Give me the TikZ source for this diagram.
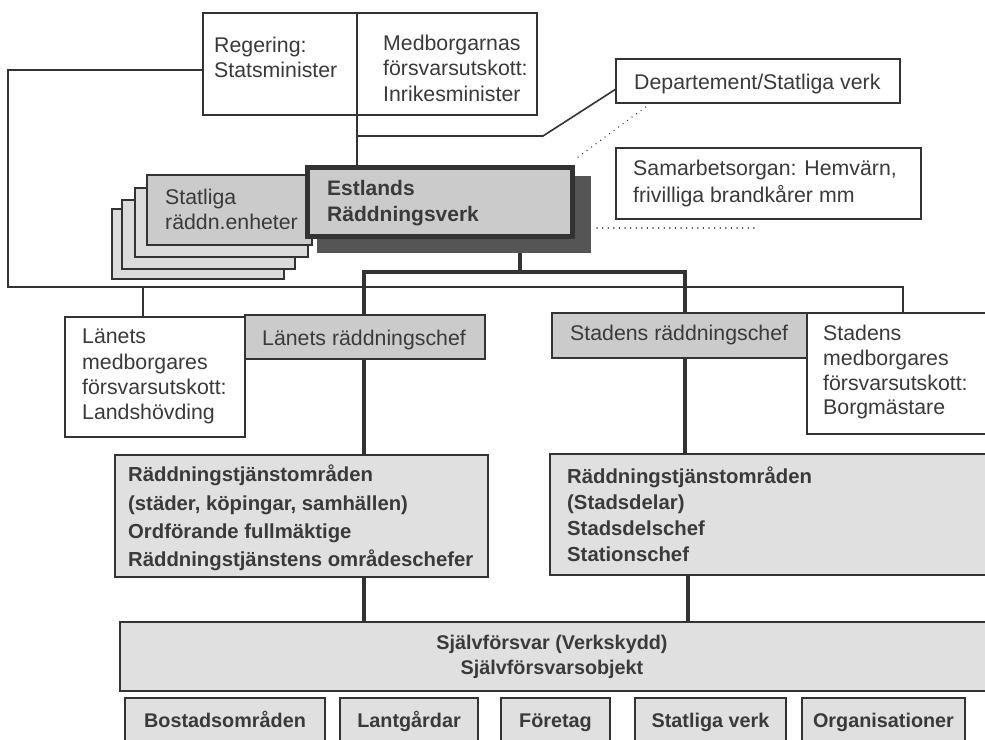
\documentclass[tikz,border=0pt]{standalone}
\usepackage{fontspec}
\setmainfont{Liberation Sans}
\usetikzlibrary{calc,fit}
\definecolor{ln}{HTML}{333333}
\definecolor{txtc}{HTML}{3A3A3A}
\definecolor{hatchc}{HTML}{CBCBCB}
\definecolor{stipc}{HTML}{DCDCDC}
\definecolor{lightc}{HTML}{E0E0E0}
\definecolor{shadc}{HTML}{555555}
\begin{document}
\begin{tikzpicture}[x=1pt,y=-1pt,
  box/.style={draw=ln, line width=1.6pt, fill=white, inner sep=0pt, outer sep=0pt},
  hatchbox/.style={box, fill=hatchc},
  stipbox/.style={box, fill=stipc},
  lightbox/.style={box, fill=lightc, line width=1.8pt},
  estbox/.style={box, fill=hatchc, line width=5pt},
  shadbox/.style={fill=shadc, draw=none, inner sep=0pt, outer sep=0pt},
  conn/.style={draw=ln, line width=1.6pt},
  thk/.style={draw=ln, line width=4.5pt},
  dotl/.style={draw=ln, line width=1.4pt, dash pattern=on 0.1pt off 5.5pt, line cap=round},
  rtxt/.style={text=txtc, inner sep=0pt, align=left, font={\fontsize{21.3}{#1}\selectfont}},
  btxt/.style={text=txtc, inner sep=0pt, align=left, font={\fontsize{20.3}{#1}\selectfont\bfseries}},
  ctxt/.style={text=txtc, inner sep=0pt, align=center, font={\fontsize{19.8}{#1}\selectfont\bfseries}}
]
\useasboundingbox (0,0) rectangle (985,739);

% ---------- top boxes
\node[box, fit={(203,13) (357,115)}] (reg) {};
\node[box, fit={(357,13) (537,115)}] (med) {};
\node[box, fit={(616,59) (900,103)}] (dep) {};
\node[box, fit={(616,148) (921,219)}] (sam) {};

% ---------- Statliga stack
\node[stipbox, fit={(112,209) (284,279)}] (st4) {};
\node[stipbox, fit={(122,200) (295,269)}] (st3) {};
\node[stipbox, fit={(135,188) (308,257)}] (st2) {};
\node[hatchbox, fit={(147,175) (312,245)}] (st1) {};

% ---------- Estlands
\node[shadbox, fit={(317,176) (591,253)}] (shd) {};
\node[estbox, fit={(307.5,167.5) (572.5,236.5)}] (est) {};

% ---------- middle row
\node[box, fit={(65,317) (245,437)}] (lmed) {};
\node[hatchbox, fit={(245,315) (485,359)}] (lrc) {};
\node[hatchbox, fit={(552,313) (807,358)}] (src) {};
\node[box, fit={(807,313) (995,434)}] (smed) {};

% ---------- lower boxes
\node[lightbox, fit={(115,455) (488,577)}] (lrt) {};
\node[lightbox, fit={(550,454) (995,575)}] (rrt) {};
\node[lightbox, fit={(120,622) (995,691)}] (self) {};
\node[lightbox, fit={(125,698) (325,750)}] (b1) {};
\node[lightbox, fit={(340,698) (478,750)}] (b2) {};
\node[lightbox, fit={(501,698) (610,750)}] (b3) {};
\node[lightbox, fit={(635,698) (786,750)}] (b4) {};
\node[lightbox, fit={(802,698) (965,750)}] (b5) {};

% ---------- connector coordinates
\coordinate (rw) at ($(reg.west)+(0,6)$);
\coordinate (L1) at (8,70);
\coordinate (L2) at (8,287);
\coordinate (L3) at (903,287);
\coordinate (lb) at (143,287);
\coordinate (j1) at (357,136);
\coordinate (j2) at (543,136);
\coordinate (dw) at ($(dep.west)+(0,8)$);
\coordinate (eh) at (520,272);
\coordinate (hl) at (364,272);
\coordinate (hr) at (685,272);
\coordinate (vl) at (364,0);
\coordinate (vr) at (685,0);
\coordinate (vr2) at (688,0);
\coordinate (d1) at (578,157);
\coordinate (d2) at (647,106);
\coordinate (d3) at (597,228);
\coordinate (d4) at (755,228);

% ---------- thin connectors
\draw[conn, line join=miter] (rw) -- (L1) -- (L2) -- (L3) -- (L3 |- smed.north);
\draw[conn] (lb) -- (lb |- lmed.north);
\draw[conn] (med.south west) -- (med.south west |- est.north);
\draw[conn, line join=miter] (j1) -- (j2) -- (dw);

% ---------- thick connectors
\draw[thk] (eh |- shd.south) -- (eh);
\draw[thk, line join=miter] (lrc.north -| hl) -- (hl) -- (hr) -- (src.north -| hr);
\draw[thk] (lrc.south -| vl) -- (lrt.north -| vl);
\draw[thk] (lrt.south -| vl) -- (self.north -| vl);
\draw[thk] (src.south -| vr) -- (rrt.north -| vr);
\draw[thk] (rrt.south -| vr2) -- (self.north -| vr2);

% ---------- dotted
\draw[dotl] (d1) -- (d2);
\draw[dotl] (d3) -- (d4);

% ---------- texts
\node[rtxt=24.5, anchor=north west] (treg) at (214,37) {Regering:\\Statsminister};
\node[rtxt=25.3, anchor=north west] (tmed) at (383,35) {Medborgarnas\\försvarsutskott:\\Inrikesminister};
\node[rtxt=25, anchor=base west] (tdep) at (634,89.5) {Departement/Statliga verk};
\node[rtxt=27, anchor=north west] (tsam) at (633,160) {Samarbetsorgan: Hemvärn,\\frivilliga brandkårer mm};
\node[rtxt=25, anchor=north west] (tst) at (165,189) {Statliga\\räddn.enheter};
\node[btxt=26, anchor=north west, font={\fontsize{21}{26}\selectfont\bfseries}] (test) at (327,180) {Estlands\\Räddningsverk};
\node[rtxt=25.3, anchor=north west] (tlmed) at (82,329) {Länets\\medborgares\\försvarsutskott:\\Landshövding};
\node[rtxt=25, anchor=base west] (tlrc) at (262,345.5) {Länets räddningschef};
\node[rtxt=25, anchor=base west] (tsrc) at (570,340.5) {Stadens räddningschef};
\node[rtxt=24.7, anchor=north west] (tsmed) at (823,325) {Stadens\\medborgares\\försvarsutskott:\\Borgmästare};
\node[btxt=28.3, anchor=north west] (tlrt) at (128,465) {Räddningstjänstområden\\(städer, köpingar, samhällen)\\Ordförande fullmäktige\\Räddningstjänstens områdeschefer};
\node[btxt=25.7, anchor=north west] (trrt) at (567,467) {Räddningstjänstområden\\(Stadsdelar)\\Stadsdelschef\\Stationschef};
\node[ctxt=25, anchor=north] (tself) at (552,635) {Självförsvar (Verkskydd)\\Självförsvarsobjekt};
\node[ctxt=25, anchor=base] (tb1) at ($(b1.north)!0.5!(b1.north)+(0,29)$) {Bostadsområden};
\node[ctxt=25, anchor=base] (tb2) at ($(b2.north)+(0,29)$) {Lantgårdar};
\node[ctxt=25, anchor=base] (tb3) at ($(b3.north)+(0,29)$) {Företag};
\node[ctxt=25, anchor=base] (tb4) at ($(b4.north)+(0,29)$) {Statliga verk};
\node[ctxt=25, anchor=base] (tb5) at ($(b5.north)+(0,29)$) {Organisationer};
\end{tikzpicture}
\end{document}
